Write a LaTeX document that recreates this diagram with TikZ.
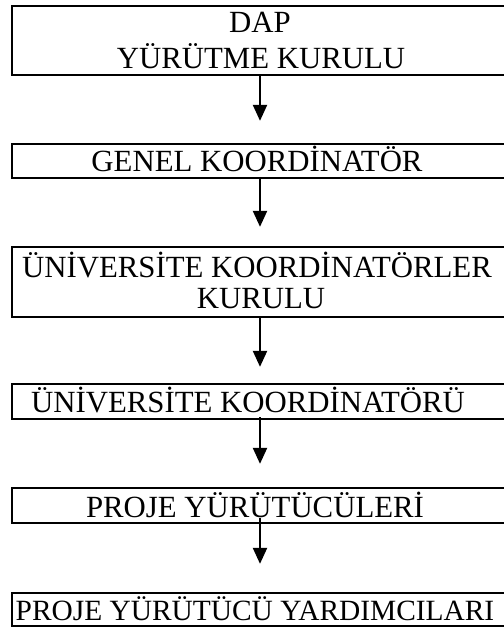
\documentclass[tikz,border=0pt]{standalone}
\usepackage{fontspec}
\setmainfont{Liberation Serif}
\usetikzlibrary{arrows.meta}
\tikzset{
  boxnode/.style={draw=black, line width=2.3bp, rectangle, inner sep=0pt, minimum width=496bp},
  lbl/.style={anchor=base, inner sep=0pt, font=\fontsize{30.8bp}{36bp}\selectfont},
  arr/.style={line width=2.2bp, -{Triangle[width=14bp,length=16bp]}}
}
\begin{document}
\begin{tikzpicture}[x=1bp,y=-1bp]
\useasboundingbox (0,0) rectangle (504,628);
\clip (0,0) rectangle (504,628);
% boxes (centre x = 260, width 496)
\node[boxnode, minimum height=69bp] (b1) at (260,40.5) {};
\node[boxnode, minimum height=34bp] (b2) at (260,161) {};
\node[boxnode, minimum height=70bp] (b3) at (260,282) {};
\node[boxnode, minimum height=35bp] (b4) at (260,401.5) {};
\node[boxnode, minimum height=35bp] (b5) at (260,505.5) {};
\node[boxnode, minimum height=33bp] (b6) at (260,609.5) {};
% texts
\node[lbl] (t1a) at (260,33) {DAP};
\node[lbl] (t1b) at (261,68.5) {YÜRÜTME KURULU};
\node[lbl] (t2) at (257,172) {GENEL KOORDİNATÖR};
\node[lbl] (t3a) at (257,277.5) {ÜNİVERSİTE KOORDİNATÖRLER};
\node[lbl] (t3b) at (261,308) {KURULU};
\node[lbl] (t4) at (248,412) {ÜNİVERSİTE KOORDİNATÖRÜ};
\node[lbl] (t5) at (255,517) {PROJE YÜRÜTÜCÜLERİ};
\node[lbl, font=\fontsize{29.4bp}{36bp}\selectfont] (t6) at (255,620) {PROJE YÜRÜTÜCÜ YARDIMCILARI};
% arrows
\draw[arr] (b1.south) -- ([yshift=22bp]b2.north);
\draw[arr] (b2.south) -- ([yshift=19bp]b3.north);
\draw[arr] (b3.south) -- ([yshift=16bp]b4.north);
\draw[arr] ([yshift=3bp]b4.south) -- ([yshift=23bp]b5.north);
\draw[arr] ([yshift=6bp]b5.south) -- ([yshift=28bp]b6.north);
\end{tikzpicture}
\end{document}
